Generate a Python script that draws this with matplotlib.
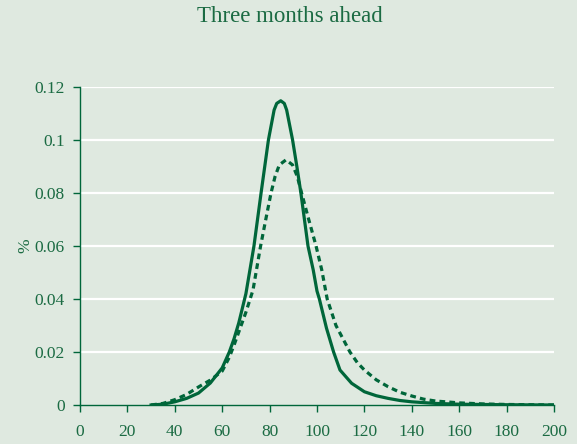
import matplotlib
matplotlib.use("Agg")
import matplotlib.pyplot as plt
from matplotlib.ticker import FuncFormatter

# Data
solid_x = [30, 35, 40, 45, 50, 55, 60, 63, 65, 67, 70, 73.4, 76.4, 79.5, 81.9, 83.0, 84.7,
           86.2, 87.2, 89.7, 91.5, 93.2, 96.2, 98.4, 100, 101, 104, 107, 109.7, 114.6, 120,
           125, 130, 135, 140, 150, 160, 180, 200]
solid_y = [0.0, 0.0003, 0.0012, 0.0025, 0.0045, 0.0083, 0.0140, 0.0200, 0.0250, 0.031,
           0.042, 0.060, 0.080, 0.100, 0.1113, 0.1138, 0.1148, 0.1138, 0.1113, 0.100,
           0.090, 0.080, 0.060, 0.051, 0.043, 0.040, 0.029, 0.020, 0.0132, 0.0082, 0.0050,
           0.0035, 0.0025, 0.0017, 0.0012, 0.0006, 0.0003, 0.0001, 0.0]

dashed_x = [30, 35, 40, 45, 50, 55, 60, 63, 65, 70, 73, 76.2, 78.6, 80.6, 82.3, 84.1, 86.9,
            89.7, 91.7, 93.5, 96.2, 99.6, 102, 104.3, 108, 113.9, 117, 120, 125, 130,
            135, 140, 145, 150, 160, 170, 180, 200]
dashed_y = [0.0, 0.0006, 0.0020, 0.0040, 0.0068, 0.0094, 0.0128, 0.0180, 0.0226, 0.035,
            0.0434, 0.060, 0.071, 0.080, 0.0862, 0.0906, 0.0925, 0.0906, 0.0862, 0.080,
            0.071, 0.060, 0.051, 0.040, 0.030, 0.020, 0.016, 0.0132, 0.0095, 0.0069,
            0.0048, 0.0034, 0.0022, 0.0015, 0.0008, 0.0004, 0.0002, 0.0]

x_ticks = [0, 20, 40, 60, 80, 100, 120, 140, 160, 180, 200]
y_ticks = [0, 0.02, 0.04, 0.06, 0.08, 0.1, 0.12]

title = "Three months ahead"
y_label = "%"

BG = "#dfe9e0"
LINE = "#00663a"
TEXT = "#1b6b43"

plt.rcParams['font.family'] = ['Liberation Serif', 'DejaVu Serif']

fig = plt.figure(figsize=(5.77, 4.44), dpi=100, facecolor=BG)
ax = fig.add_axes([80/577, 39/444, 474/577, 318/444])
ax.set_facecolor(BG)

for y in y_ticks[1:]:
    ax.axhline(y, color="white", lw=1.6, zorder=1)

ax.plot(solid_x, solid_y, color=LINE, lw=2.3, solid_joinstyle="round", zorder=3)
ax.plot(dashed_x, dashed_y, color=LINE, lw=2.3, linestyle=(0, (1.8, 1.3)), zorder=3)

ax.set_xlim(0, 200)
ax.set_ylim(0, 0.12)
ax.set_xticks(x_ticks)
ax.set_yticks(y_ticks)
ax.yaxis.set_major_formatter(FuncFormatter(lambda v, p: "0" if v == 0 else ("%g" % round(v, 3))))

for s in ["top", "right"]:
    ax.spines[s].set_visible(False)
for s in ["left", "bottom"]:
    ax.spines[s].set_color(LINE)
    ax.spines[s].set_linewidth(1.0)
ax.spines["bottom"].set_zorder(2)

ax.tick_params(axis="both", direction="out", length=5, width=1.0, color=LINE,
               labelcolor=TEXT, labelsize=12.5)
ax.tick_params(axis="x", pad=9)
ax.tick_params(axis="y", pad=6)

ax.set_ylabel(y_label, color=TEXT, fontsize=12.5, labelpad=1)
fig.text(290/577, 1 - 17/444, title, ha="center", va="center", color=TEXT, fontsize=16.5)

fig.savefig("out.png", dpi=100, facecolor=BG)
